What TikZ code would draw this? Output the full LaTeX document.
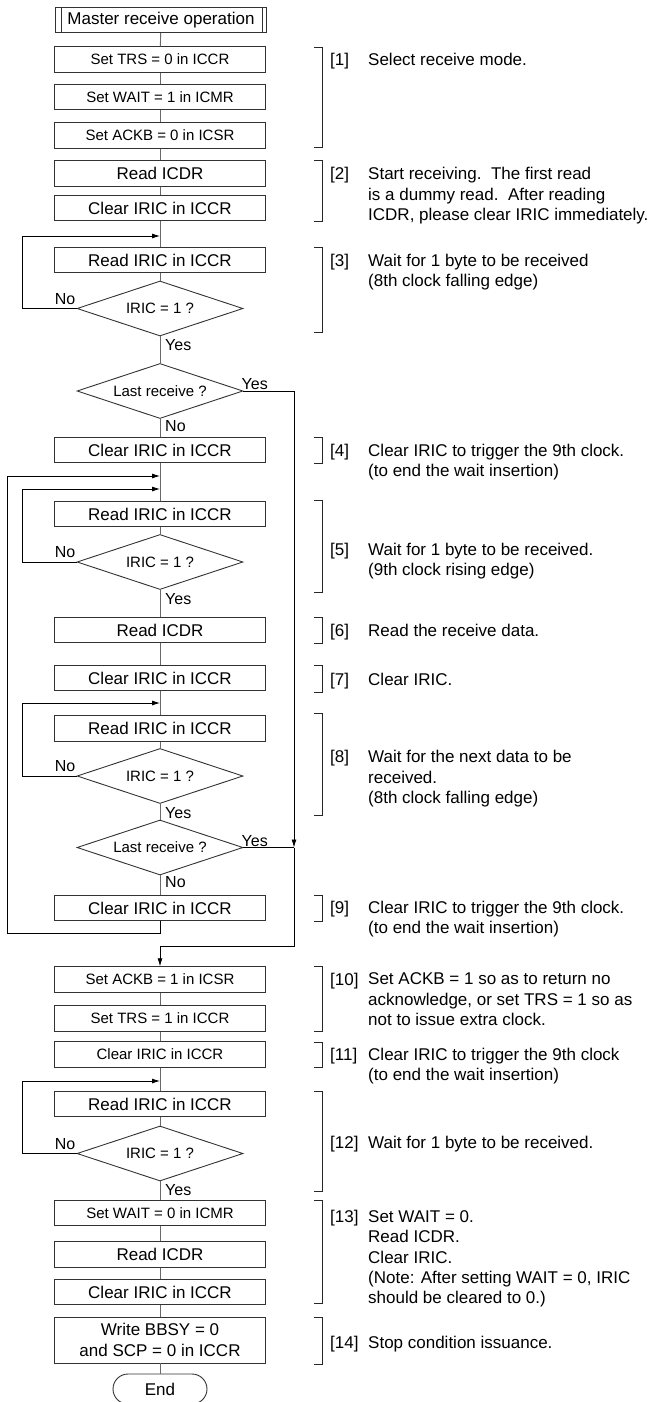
\documentclass[tikz,border=0pt]{standalone}
\usepackage{fontspec}
\setmainfont{Liberation Sans}
\usepackage{tikz}
\definecolor{boxline}{RGB}{50, 50, 50}
\definecolor{flowline}{RGB}{105, 105, 105}
\usetikzlibrary{arrows.meta, shapes.geometric}

\begin{document}
\begin{tikzpicture}[x=1pt, y=1pt,
    proc/.style={draw=boxline, line width=0.9pt, rectangle, minimum width=211pt,
      minimum height=25.5pt, inner sep=0pt, font=\fontsize{17}{20.4}\selectfont},
    procsm/.style={proc, font=\fontsize{15}{18}\selectfont},
    decide/.style={draw=boxline, line width=0.9pt, diamond, aspect=3, inner sep=0pt,
      minimum width=166pt, minimum height=55pt, font=\fontsize{15}{18}\selectfont},
    flow/.style={draw=flowline, line width=0.9pt},
    loopback/.style={draw=black, line width=0.8pt, -{Latex[length=8pt, width=5pt]}},
    lbl/.style={inner sep=1pt, font=\fontsize{16}{19}\selectfont},
    brk/.style={draw=black!85, line width=0.8pt},
    num/.style={anchor=north west, inner sep=0pt, font=\fontsize{17}{20.4}\selectfont},
    note/.style={num, align=left}]
  \useasboundingbox (0,0) rectangle (655,-1402);
  % Start and receive mode
  \node[proc] (title) at (161,-20) {Master receive operation};
  \draw[draw=boxline, line width=0.9pt] ([xshift=6pt]title.north west) -- ([xshift=6pt]title.south west);
  \draw[draw=boxline, line width=0.9pt] ([xshift=-5pt]title.north east) -- ([xshift=-5pt]title.south east);
  \node[procsm] (b1) at (160,-59.5) {Set TRS = 0 in ICCR};
  \node[procsm] (b2) at (160,-97) {Set WAIT = 1 in ICMR};
  \node[procsm] (b3) at (160,-135.5) {Set ACKB = 0 in ICSR};
  \node[proc] (b4) at (160,-173.5) {Read ICDR};
  \node[proc] (b5) at (160,-208) {Clear IRIC in ICCR};
  % First byte
  \coordinate (j1) at (160,-236);
  \node[proc] (b6) at (160,-260) {Read IRIC in ICCR};
  \node[decide] (d1) at (160,-308.5) {IRIC = 1 ?};
  \node[decide] (d2) at (160,-391) {Last receive ?};
  \node[proc] (b7) at (160,-450) {Clear IRIC in ICCR};
  % Receive loop
  \coordinate (j2) at (160,-476);
  \coordinate (j3) at (160,-489);
  \node[proc] (b8) at (160,-514) {Read IRIC in ICCR};
  \node[decide] (d3) at (160,-562) {IRIC = 1 ?};
  \node[proc] (b9) at (160,-630) {Read ICDR};
  \node[proc] (b10) at (160,-678) {Clear IRIC in ICCR};
  \coordinate (j4) at (160,-703);
  \node[proc] (b11) at (160,-728.5) {Read IRIC in ICCR};
  \node[decide] (d4) at (160,-776) {IRIC = 1 ?};
  \node[decide] (d5) at (160,-847.5) {Last receive ?};
  \node[proc] (b12) at (160,-908) {Clear IRIC in ICCR};
  \coordinate (jr) at (294,-847.5);
  % Last byte
  \node[procsm] (b13) at (160,-979.5) {Set ACKB = 1 in ICSR};
  \node[procsm] (b14) at (160,-1018.5) {Set TRS = 1 in ICCR};
  \node[procsm] (b15) at (160,-1054.5) {Clear IRIC in ICCR};
  \coordinate (j5) at (160,-1081);
  \node[proc] (b16) at (160,-1104) {Read IRIC in ICCR};
  \node[decide] (d6) at (160,-1153.5) {IRIC = 1 ?};
  \node[procsm] (b17) at (160,-1213) {Set WAIT = 0 in ICMR};
  \node[proc] (b18) at (160,-1254.5) {Read ICDR};
  \node[proc] (b19) at (160,-1292) {Clear IRIC in ICCR};
  \node[proc, minimum height=46pt, align=center] (b20) at (160,-1340) {Write BBSY = 0\\and SCP = 0 in ICCR};
  \node[draw=boxline, line width=0.9pt, rounded corners=15pt, minimum width=94pt,
    minimum height=30pt, inner sep=0pt, font=\fontsize{17}{20.4}\selectfont] (stop) at (160,-1389) {End};
  % Main flow
  \foreach \a/\b in {title/b1, b1/b2, b2/b3, b3/b4, b4/b5, b5/b6, b6/d1, d1/d2, d2/b7,
      b7/b8, b8/d3, d3/b9, b9/b10, b10/b11, b11/d4, d4/d5, d5/b12,
      b13/b14, b14/b15, b15/b16, b16/d6, d6/b17, b17/b18, b18/b19, b19/b20, b20/stop} {
    \draw[flow] (\a) -- (\b);
  }
  % Loops
  \draw[loopback] (d1.west) -- ++(-54,0) |- (j1);
  \draw[loopback] (d3.west) -- ++(-54,0) |- (j3);
  \draw[loopback] (d4.west) -- ++(-54,0) |- (j4);
  \draw[loopback] (d6.west) -- ++(-54,0) |- (j5);
  \draw[loopback] (b12.south) -- ++(0,-12) -- ++(-153,0) |- (j2);
  \draw[loopback] (d2.east) -| (jr);
  \draw[draw=black, line width=0.8pt] (d5.east) -- (jr);
  \draw[loopback] (jr) -- ++(0,-98.5) -| (b13.north);
  % Yes / No
  \node[lbl, anchor=south east, yshift=3pt] (no1) at (d1.west) {No};
  \node[lbl, anchor=north west, xshift=4pt, yshift=-2pt] (yes1) at (d1.south) {Yes};
  \node[lbl, anchor=south west, xshift=-3pt] (yes2) at (d2.east) {Yes};
  \node[lbl, anchor=north west, xshift=4pt] (no2) at (d2.south) {No};
  \node[lbl, anchor=south east, yshift=3pt] (no3) at (d3.west) {No};
  \node[lbl, anchor=north west, xshift=4pt, yshift=-2pt] (yes3) at (d3.south) {Yes};
  \node[lbl, anchor=south east, yshift=3pt] (no4) at (d4.west) {No};
  \node[lbl, anchor=north west, xshift=4pt, yshift=-2pt] (yes4) at (d4.south) {Yes};
  \node[lbl, anchor=south west, xshift=-3pt] (yes5) at (d5.east) {Yes};
  \node[lbl, anchor=north west, xshift=4pt] (no5) at (d5.south) {No};
  \node[lbl, anchor=south east, yshift=3pt] (no6) at (d6.west) {No};
  \node[lbl, anchor=north west, xshift=4pt, yshift=-2pt] (yes6) at (d6.south) {Yes};
  % Brackets
  \foreach \t/\b in {47/147, 160/221, 247/332, 437/463, 500/592, 617/643, 665/692,
      713/815, 895/921, 966/1031, 1042/1067, 1091/1191, 1200/1303, 1317/1364} {
    \draw[brk] (314,-\t) -| (322,-\b) -- (314,-\b);
  }
  % Notes
  \foreach \n/\y in {1/53.2, 2/167.2, 3/253.7, 4/443.7, 5/542.7, 6/623.7, 7/672.7,
      8/750.2, 9/900.7, 10/972.7, 11/1047.7, 12/1136.2, 13/1210.2, 14/1335.7} {
    \node[num] (k\n) at (330,-\y) {[\n]};
  }
  \node[note] (t1) at (368,-53.2) {Select receive mode.};
  \node[note] (t2) at (368,-167.2) {Start receiving.\ \ The first read\\is a dummy read.\ \ After reading\\ICDR, please clear IRIC immediately.};
  \node[note] (t3) at (368,-253.7) {Wait for 1 byte to be received\\(8th clock falling edge)};
  \node[note] (t4) at (368,-443.7) {Clear IRIC to trigger the 9th clock.\\(to end the wait insertion)};
  \node[note] (t5) at (368,-542.7) {Wait for 1 byte to be received.\\(9th clock rising edge)};
  \node[note] (t6) at (368,-623.7) {Read the receive data.};
  \node[note] (t7) at (368,-672.7) {Clear IRIC.};
  \node[note] (t8) at (368,-750.2) {Wait for the next data to be\\received.\\(8th clock falling edge)};
  \node[note] (t9) at (368,-900.7) {Clear IRIC to trigger the 9th clock.\\(to end the wait insertion)};
  \node[note] (t10) at (368,-972.7) {Set ACKB = 1 so as to return no\\acknowledge, or set TRS = 1 so as\\not to issue extra clock.};
  \node[note] (t11) at (368,-1047.7) {Clear IRIC to trigger the 9th clock\\(to end the wait insertion)};
  \node[note] (t12) at (368,-1136.2) {Wait for 1 byte to be received.};
  \node[note] (t13) at (368,-1210.2) {Set WAIT = 0.\\Read ICDR.\\Clear IRIC.\\(Note: After setting WAIT = 0, IRIC\\should be cleared to 0.)};
  \node[note] (t14) at (368,-1335.7) {Stop condition issuance.};
\end{tikzpicture}
\end{document}
